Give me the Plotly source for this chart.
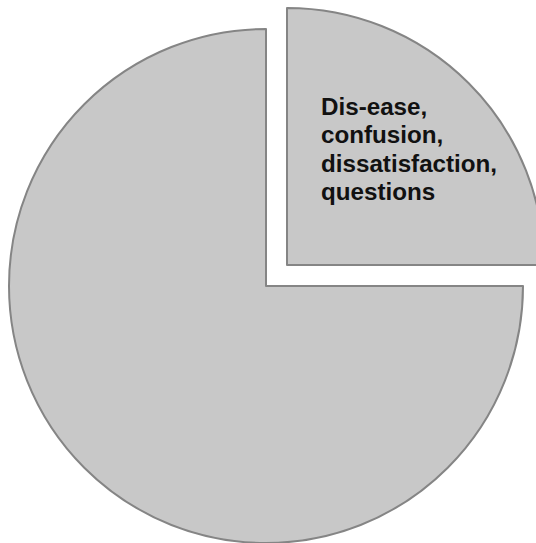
import plotly.graph_objects as go

# ---- data ----
labels = ["Dis-ease, confusion, dissatisfaction, questions", "Everything else"]
values = [25, 75]
label_lines = ["Dis-ease,", "confusion,", "dissatisfaction,", "questions"]

FILL = "#c8c8c8"
EDGE = "#858585"
CLEAR = "rgba(0,0,0,0)"

W, H = 544, 543

fig = go.Figure()

# main (unpulled) slice
fig.add_trace(go.Pie(
    labels=labels, values=values, sort=False, direction="clockwise", rotation=0,
    marker=dict(colors=[CLEAR, FILL], line=dict(color=[CLEAR, EDGE], width=2)),
    textinfo="none", hoverinfo="label+percent", showlegend=False,
    domain=dict(x=[9 / W, 523 / W], y=[0, 514 / H]),
))

# exploded slice
fig.add_trace(go.Pie(
    labels=labels, values=values, sort=False, direction="clockwise", rotation=0,
    marker=dict(colors=[FILL, CLEAR], line=dict(color=[EDGE, CLEAR], width=2)),
    textinfo="none", hoverinfo="label+percent", showlegend=False,
    domain=dict(x=[30 / W, 1.0], y=[21 / H, 535 / H]),
))

# label text: base size sets the (tight) line spacing, span sets glyph size
BASE = 21.8
GLYPH = 24.2
text = "<br>".join(f"<span style='font-size:{GLYPH}px'>{t}</span>" for t in label_lines)
fig.add_annotation(
    text=text,
    xref="paper", yref="paper", x=319 / W, y=1 - 148.7 / H,
    xanchor="left", yanchor="middle", align="left", showarrow=False,
    font=dict(family="Liberation Sans", size=BASE, color="#111111", weight="bold"),
)

fig.update_layout(
    width=W, height=H, autosize=False,
    margin=dict(l=0, r=0, t=0, b=0),
    paper_bgcolor="white", plot_bgcolor="white",
)

fig.write_html(
    "out.html",
    post_script="document.body.style.margin='0';document.body.style.overflow='hidden';document.documentElement.style.overflow='hidden';",
)
